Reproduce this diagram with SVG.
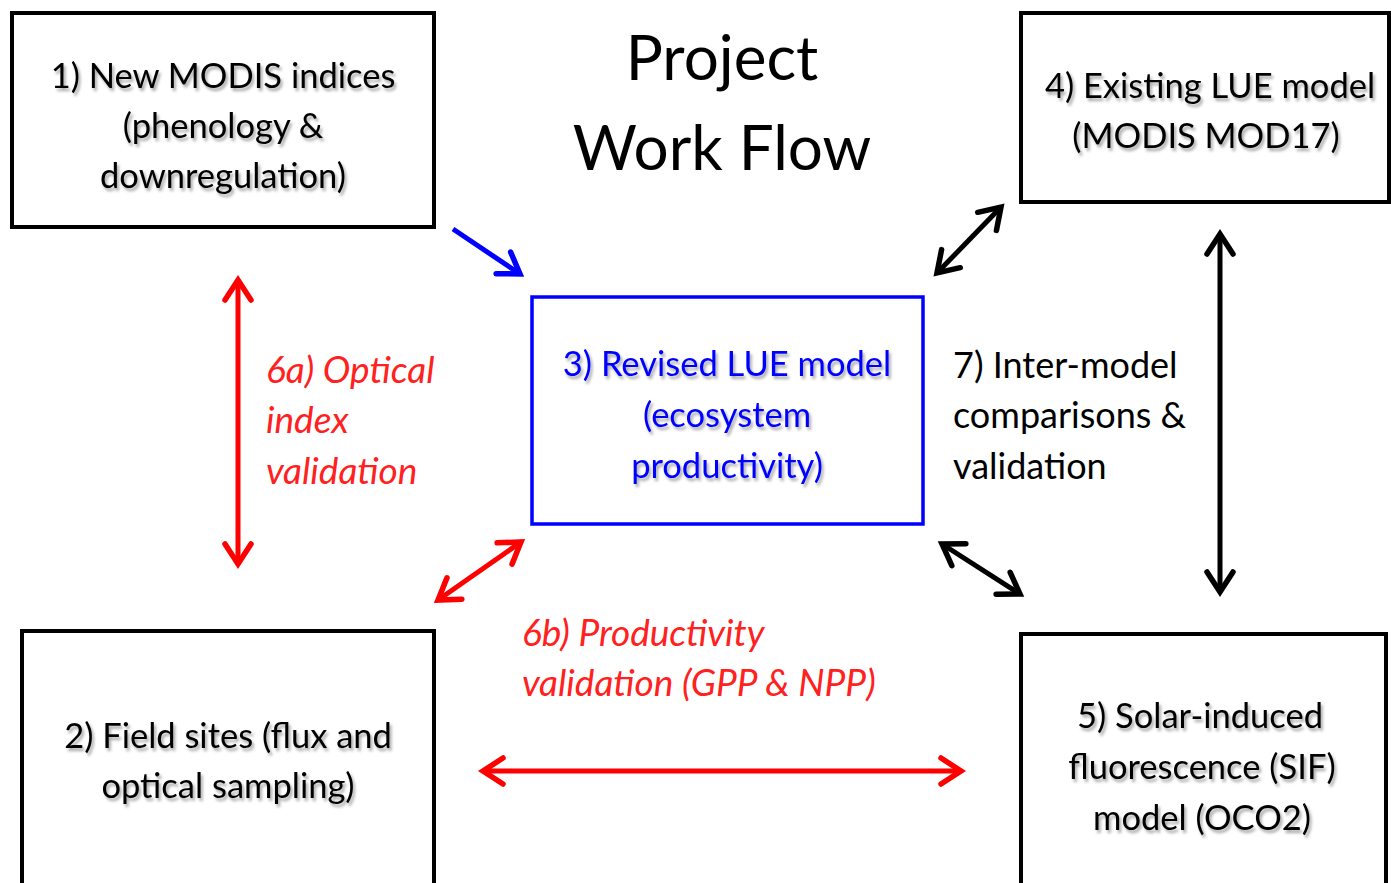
<svg xmlns="http://www.w3.org/2000/svg" width="1391" height="883" viewBox="0 0 1391 883">
<defs>
<filter id="sh" x="-10%" y="-20%" width="120%" height="150%"><feDropShadow dx="2" dy="3" stdDeviation="1.5" flood-color="#000" flood-opacity="0.35"/></filter>
<marker id="ak" markerUnits="userSpaceOnUse" viewBox="-26 -16 32 32" refX="0" refY="0" markerWidth="32" markerHeight="32" orient="auto-start-reverse"><path d="M-20,-13 L0,0 L-20,13" fill="none" stroke="#000" stroke-width="5.5" stroke-linecap="round" stroke-linejoin="miter"/></marker>
<marker id="ar" markerUnits="userSpaceOnUse" viewBox="-26 -16 32 32" refX="0" refY="0" markerWidth="32" markerHeight="32" orient="auto-start-reverse"><path d="M-20,-13 L0,0 L-20,13" fill="none" stroke="#ff0000" stroke-width="5.5" stroke-linecap="round" stroke-linejoin="miter"/></marker>
<marker id="ab" markerUnits="userSpaceOnUse" viewBox="-26 -16 32 32" refX="0" refY="0" markerWidth="32" markerHeight="32" orient="auto-start-reverse"><path d="M-20,-13 L0,0 L-20,13" fill="none" stroke="#0000ff" stroke-width="5.5" stroke-linecap="round" stroke-linejoin="miter"/></marker>
</defs>
<style>
.box{fill:#fff;stroke:#000;stroke-width:4}
.t{font-family:Lato,"Noto Sans",sans-serif;font-size:34.5px;fill:#000;text-anchor:middle}
.sh{filter:url(#sh)}
.lbl{font-family:Lato,"Noto Sans",sans-serif;font-size:36px;fill:#000}
.red{font-family:Lato,"Noto Sans",sans-serif;font-size:37px;fill:#ff2020;font-style:italic}
.title{font-family:Lato,"Noto Sans",sans-serif;font-size:62px;fill:#000;text-anchor:middle}
.ck{stroke:#000;stroke-width:5;fill:none;marker-start:url(#ak);marker-end:url(#ak)}
.cr{stroke:#ff0000;stroke-width:5;fill:none;marker-start:url(#ar);marker-end:url(#ar)}
.cb{stroke:#0000ff;stroke-width:5;fill:none;marker-end:url(#ab)}
</style>
<rect width="1391" height="883" fill="#fff"/>
<g id="title"><text class="title" x="722" y="80">Project</text><text class="title" x="722" y="170">Work Flow</text></g>
<g id="node1"><rect class="box" x="12" y="13" width="422" height="214"/>
<g class="t sh"><text x="223" y="88">1) New MODIS indices</text><text x="223" y="138">(phenology &amp;</text><text x="223" y="188">downregulation)</text></g></g>
<g id="node4"><rect class="box" x="1021" y="13" width="368" height="189"/>
<g class="t sh"><text x="1210" y="98">4) Existing LUE model</text><text x="1206" y="148">(MODIS MOD17)</text></g></g>
<g id="node3"><rect x="532" y="297" width="391" height="227" fill="#fff" stroke="#0000ff" stroke-width="3.5"/>
<g class="t sh" style="fill:#0000ff"><text x="727" y="376">3) Revised LUE model</text><text x="727" y="427">(ecosystem</text><text x="727" y="478">productivity)</text></g></g>
<g id="node2"><rect class="box" x="22" y="631" width="412" height="260"/>
<g class="t sh"><text x="228" y="748">2) Field sites (flux and</text><text x="228" y="798">optical sampling)</text></g></g>
<g id="node5"><rect class="box" x="1021" y="634" width="365" height="260"/>
<g class="t sh"><text x="1200" y="728">5) Solar-induced</text><text x="1202" y="779">fluorescence (SIF)</text><text x="1202" y="830">model (OCO2)</text></g></g>
<g id="labels">
<g class="lbl"><text x="953" y="378">7) Inter-model</text><text x="953" y="428">comparisons &amp;</text><text x="953" y="479">validation</text></g>
<g class="red"><text x="266" y="383">6a) Optical</text><text x="266" y="433">index</text><text x="266" y="484">validation</text></g>
<g class="red"><text x="522" y="646">6b) Productivity</text><text x="522" y="696">validation (GPP &amp; NPP)</text></g>
</g>
<g id="connectors">
<line class="cb" x1="453" y1="229" x2="520" y2="274"/>
<line class="ck" x1="937" y1="273" x2="1001" y2="207"/>
<line class="ck" x1="1220" y1="234" x2="1220" y2="592"/>
<line class="cr" x1="238" y1="280" x2="238" y2="564"/>
<line class="cr" x1="438" y1="600" x2="521" y2="542"/>
<line class="ck" x1="942" y1="544" x2="1020" y2="594"/>
<line class="cr" x1="483" y1="771" x2="961" y2="771"/>
</g>
</svg>
